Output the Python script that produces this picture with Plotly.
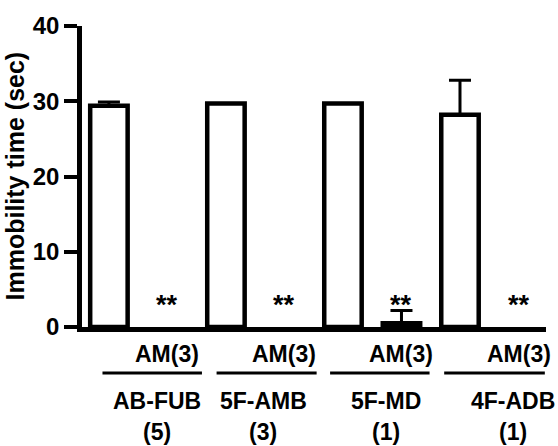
import plotly.graph_objects as go

# ---- data ----
groups = ["AB-FUB", "5F-AMB", "5F-MD", "4F-ADB"]
group_n = ["(5)", "(3)", "(1)", "(1)"]
treat_label = "AM(3)"
control_mean = [29.4, 29.7, 29.7, 28.2]
control_sem = [0.5, 0.0, 0.0, 4.6]
am_mean = [0.0, 0.0, 0.5, 0.0]
am_sem = [0.0, 0.0, 1.7, 0.0]
sig_marks = ["**", "**", "**", "**"]
y_ticks = [0, 10, 20, 30, 40]
y_title = "Immobility time (sec)"

# ---- layout constants ----
FONT = "Liberation Sans, Arial, Helvetica, sans-serif"
STAR_Y = 2.9
line_offsets = [(-0.11, 1.59), (-0.16, 1.55), (-0.22, 1.48), (-0.27, 1.45)]
label_offsets = [0.82, 0.64, 0.74, 0.90]

ctrl_x = [2 * i for i in range(len(groups))]
am_x = [2 * i + 1 for i in range(len(groups))]


def visible(vals):
    # zero-height bars are not drawn in the original figure
    return [v if v > 0 else None for v in vals]


fig = go.Figure()
common = dict(
    width=0.64,
    marker=dict(color="white", line=dict(color="black", width=4.5)),
    showlegend=False,
)
fig.add_trace(go.Bar(
    x=ctrl_x, y=control_mean,
    error_y=dict(type="data", array=control_sem, arrayminus=[0] * len(groups),
                 symmetric=False, color="black", thickness=3, width=11),
    **common))
fig.add_trace(go.Bar(
    x=am_x, y=visible(am_mean),
    error_y=dict(type="data", array=am_sem, arrayminus=[0] * len(groups),
                 symmetric=False, color="black", thickness=3, width=11),
    **common))

annotations = []
shapes = []
for i, g in enumerate(groups):
    annotations.append(dict(x=am_x[i], y=STAR_Y, xref="x", yref="y", text=sig_marks[i],
                            showarrow=False, yanchor="middle",
                            font=dict(size=27, family=FONT, color="black", weight="bold")))
    annotations.append(dict(x=am_x[i], y=0, xref="x", yref="paper", text=treat_label,
                            showarrow=False, yanchor="middle", yshift=-27,
                            font=dict(size=23, family=FONT, color="black", weight="bold")))
    annotations.append(dict(x=ctrl_x[i] + label_offsets[i], y=0, xref="x", yref="paper", text=g,
                            showarrow=False, yanchor="middle", yshift=-74,
                            font=dict(size=23, family=FONT, color="black", weight="bold")))
    annotations.append(dict(x=ctrl_x[i] + label_offsets[i], y=0, xref="x", yref="paper",
                            text=group_n[i], showarrow=False, yanchor="middle", yshift=-105,
                            font=dict(size=23, family=FONT, color="black", weight="bold")))
    shapes.append(dict(type="line", xref="x", yref="paper", ysizemode="pixel", yanchor=0,
                       x0=ctrl_x[i] + line_offsets[i][0], x1=ctrl_x[i] + line_offsets[i][1],
                       y0=-46, y1=-46, line=dict(color="black", width=3)))

# y-axis title placed as rotated text
annotations.append(dict(x=0, y=0.5, xref="paper", yref="paper", text=y_title,
                        textangle=-90, showarrow=False, xanchor="center", yanchor="middle",
                        xshift=-68,
                        font=dict(size=25, family=FONT, color="black", weight="bold")))

fig.update_layout(
    width=558, height=446,
    margin=dict(l=82, r=12, t=20, b=119),
    plot_bgcolor="white", paper_bgcolor="white",
    barmode="overlay",
    annotations=annotations,
    shapes=shapes,
    font=dict(family=FONT, color="black"),
)
fig.update_xaxes(range=[-0.46, 7.47], showline=True, linecolor="black", linewidth=4.5,
                 showticklabels=False, ticks="", showgrid=False, zeroline=False)
fig.update_yaxes(range=[0, 40], tickvals=y_ticks, showline=True, linecolor="black", linewidth=4.5,
                 ticks="outside", ticklen=13, tickwidth=4, tickcolor="black",
                 showgrid=False, zeroline=False,
                 tickfont=dict(size=24, family=FONT, color="black", weight="bold"))

fig.write_html("out.html")
